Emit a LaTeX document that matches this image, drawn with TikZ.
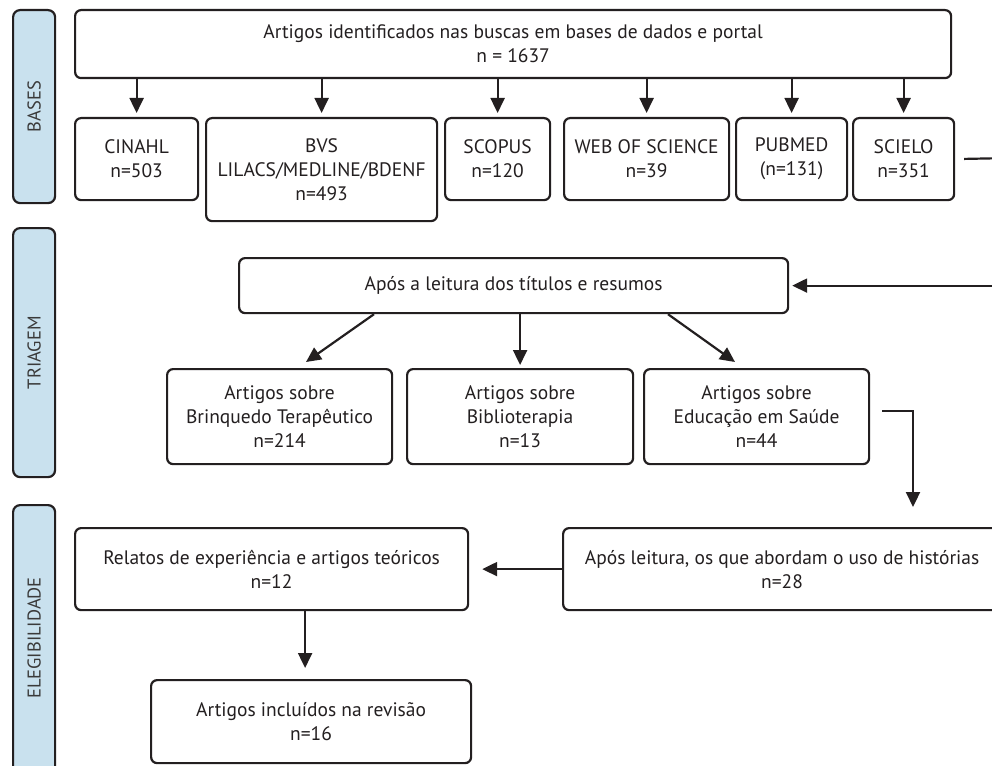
\documentclass[tikz,border=0pt]{standalone}
\usepackage{fontspec}
\setmainfont{PT Sans}
\usetikzlibrary{arrows.meta,calc}
\definecolor{ink}{HTML}{231F20}
\definecolor{lblue}{HTML}{C9E1EE}
\definecolor{lbltext}{HTML}{3A3A3A}
\begin{document}
\begin{tikzpicture}[x=1pt,y=-1pt,
  box/.style={draw=ink,line width=2.2pt,rounded corners=6pt,fill=white,
    anchor=north west,align=center,inner sep=0pt,text=ink,
    font=\fontsize{19.5}{24}\selectfont},
  side/.style={draw=ink,line width=2.2pt,rounded corners=7pt,fill=lblue,
    anchor=north west,inner sep=0pt},
  sidetext/.style={rotate=90,text=lbltext,font=\fontsize{18.5}{20}\selectfont},
  arr/.style={draw=ink,line width=2.2pt,-{Triangle[length=15pt,width=14pt]}},
  conn/.style={draw=ink,line width=2.2pt}]
\useasboundingbox (0,0) rectangle (992,765);
\clip (0,0) rectangle (992,765);
% side labels
\node[side,minimum width=42pt,minimum height=193pt] (lbA) at (12,9) {};
\node[sidetext] at (lbA.center) {BASES};
\node[side,minimum width=42pt,minimum height=249pt] (lbT) at (12,227) {};
\node[sidetext] at (lbT.center) {TRIAGEM};
\node[side,minimum width=42pt,minimum height=290pt] (lbE) at (12,504) {};
\node[sidetext] at ($(lbE.north)+(0,134)$) {ELEGIBILIDADE};
% top
\node[box,minimum width=876pt,minimum height=68pt] (top) at (74,9) {Artigos identificados nas buscas em bases de dados e portal\\ n = 1637};
% bases
\node[box,minimum width=123pt,minimum height=82pt] (cin) at (74,117) {CINAHL\\ n=503};
\node[box,minimum width=231pt,minimum height=103pt] (bvs) at (205,117) {BVS\\ LILACS/MEDLINE/BDENF\\ n=493};
\node[box,minimum width=105pt,minimum height=82pt] (sco) at (444,117) {SCOPUS\\ n=120};
\node[box,minimum width=165pt,minimum height=82pt] (wos) at (563,117) {WEB OF SCIENCE\\ n=39};
\node[box,minimum width=111pt,minimum height=82pt] (pub) at (735,117) {PUBMED\\ (n=131)};
\node[box,minimum width=101pt,minimum height=82pt] (sci) at (852,117) {SCIELO\\ n=351};
\foreach \b in {cin,bvs,sco,wos,pub,sci}{
  \draw[arr,shorten >=4pt] (top.south -| \b.north) -- (\b.north);
}
% triagem
\node[box,minimum width=549pt,minimum height=55pt] (tri) at (238,257) {Após a leitura dos títulos e resumos};
\node[box,minimum width=225pt,minimum height=95pt] (brq) at (166,368) {Artigos sobre\\ Brinquedo Terapêutico\\ n=214};
\node[box,minimum width=226pt,minimum height=95pt] (bib) at (406,368) {Artigos sobre\\ Biblioterapia\\ n=13};
\node[box,minimum width=225pt,minimum height=95pt] (edu) at (643,368) {Artigos sobre\\ Educação em Saúde\\ n=44};
\coordinate (redge1) at (1010,158);
\draw[conn,shorten <=9pt] (sci.east) -- (redge1);
\draw[arr,shorten >=3pt] (redge1) |- (tri.east);
\draw[arr] ([xshift=136pt]tri.south west) -- ([xshift=140pt,yshift=6pt]brq.north west);
\draw[arr,shorten >=3pt] (tri.south -| bib.north) -- (bib.north);
\draw[arr] ([xshift=430pt]tri.south west) -- ([xshift=92pt,yshift=6pt]edu.north west);
% elegibilidade
\node[box,minimum width=438pt,minimum height=82pt] (hist) at (562,527) {Após leitura, os que abordam o uso de histórias\\ n=28};
\node[box,minimum width=393pt,minimum height=82pt] (rel) at (74,527) {Relatos de experiência e artigos teóricos\\ n=12};
\node[box,minimum width=320pt,minimum height=83pt] (inc) at (150,679) {Artigos incluídos na revisão\\ n=16};
\draw[arr,shorten <=12pt,shorten >=20pt] ([yshift=6pt]edu.east) -| ([xshift=351pt]hist.north west);
\draw[arr,shorten >=13pt] (hist.west) -- (rel.east);
\draw[arr,shorten >=11pt] ([xshift=-6pt]inc.north |- rel.south) -- ([xshift=-6pt]inc.north);
\end{tikzpicture}
\end{document}
